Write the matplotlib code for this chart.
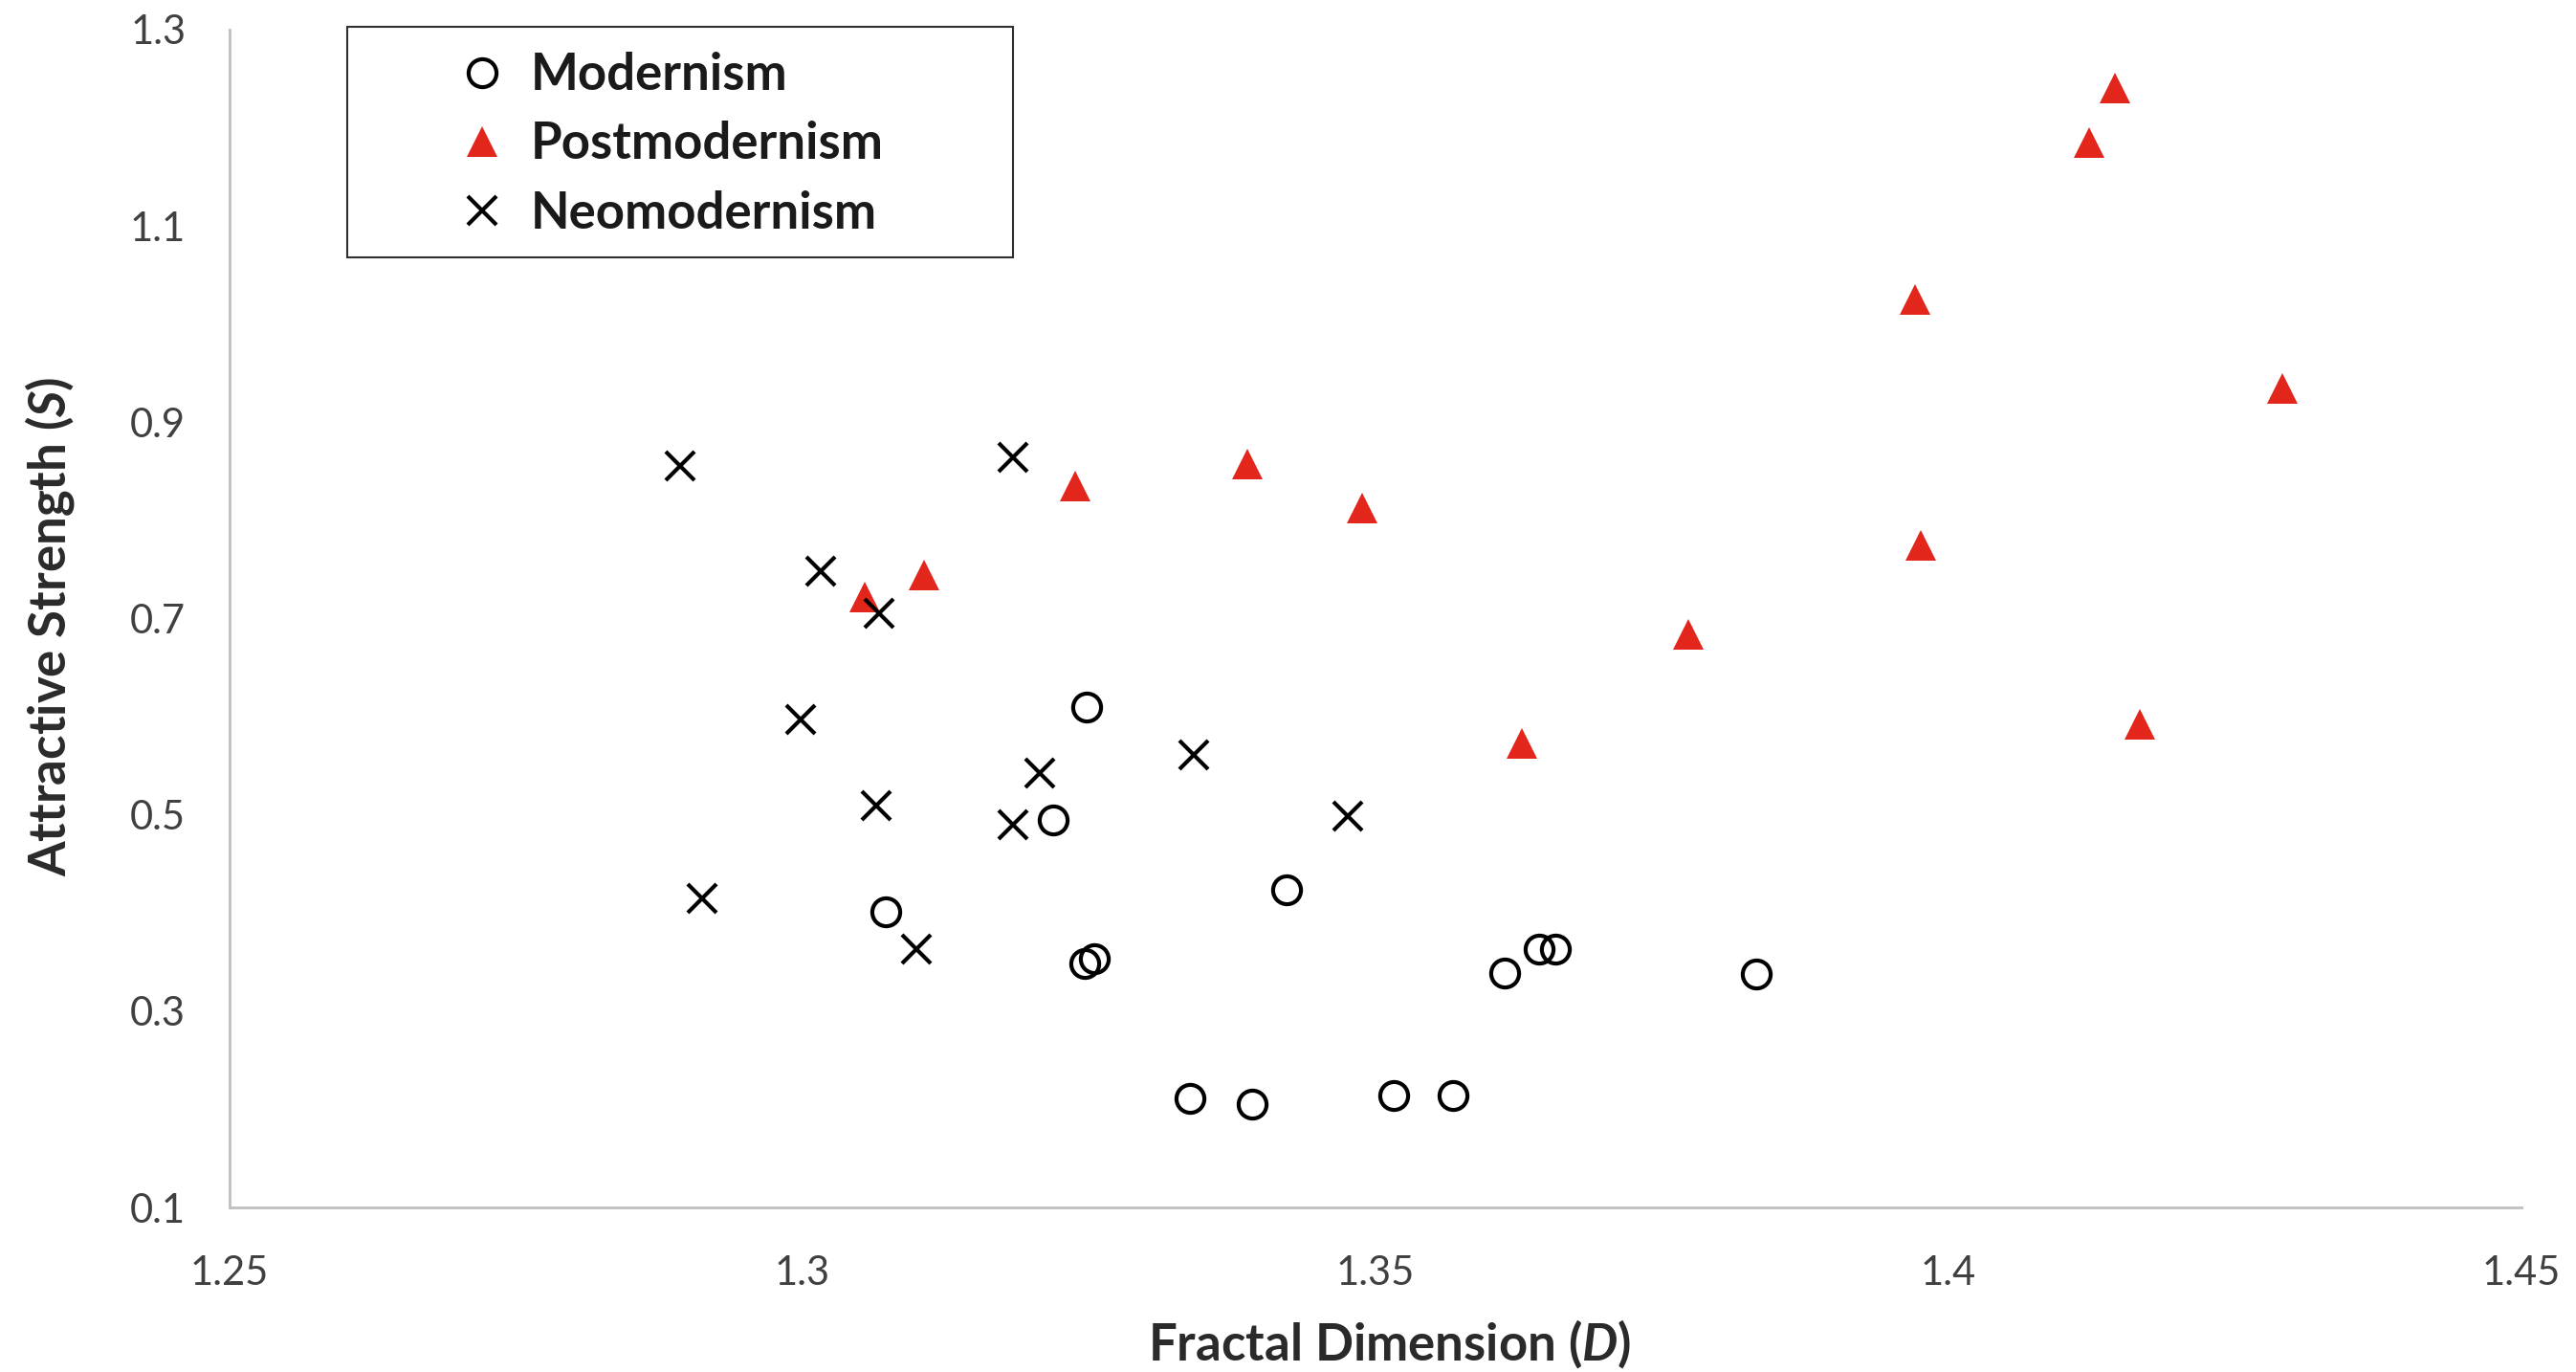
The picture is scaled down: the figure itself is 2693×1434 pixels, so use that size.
import matplotlib
matplotlib.use("Agg")
import matplotlib.pyplot as plt
from matplotlib.patches import Rectangle

plt.rcParams["font.family"] = ["Lato", "DejaVu Sans"]
plt.rcParams["mathtext.fontset"] = "custom"
plt.rcParams["mathtext.bfit"] = "Lato:bold:italic"
plt.rcParams["mathtext.it"] = "Lato:italic"

# Modernism (circles)
mod_x = [1.3248, 1.3219, 1.3073, 1.3422, 1.3246, 1.3255, 1.3613, 1.3643, 1.3657, 1.3832, 1.3338, 1.3392, 1.3516, 1.3568]
mod_y = [0.610, 0.495, 0.401, 0.424, 0.349, 0.353, 0.339, 0.363, 0.363, 0.338, 0.211, 0.205, 0.214, 0.214]

# Postmodernism (red triangles)
post_x = [1.3054, 1.3106, 1.3238, 1.3388, 1.3488, 1.3628, 1.3773, 1.3971, 1.3976, 1.4123, 1.4145, 1.4167, 1.4291]
post_y = [0.722, 0.744, 0.835, 0.857, 0.8125, 0.573, 0.684, 1.025, 0.7745, 1.1845, 1.2405, 0.5926, 0.934]

# Neomodernism (crosses)
neo_x = [1.2893, 1.3184, 1.3016, 1.3067, 1.2998, 1.3207, 1.3341, 1.3064, 1.3184, 1.3476, 1.2912, 1.3099]
neo_y = [0.855, 0.8645, 0.7485, 0.705, 0.597, 0.5425, 0.561, 0.509, 0.490, 0.499, 0.415, 0.363]

x_ticks = [1.25, 1.3, 1.35, 1.4, 1.45]
x_labels = ["1.25", "1.3", "1.35", "1.4", "1.45"]
y_ticks = [0.1, 0.3, 0.5, 0.7, 0.9, 1.1, 1.3]
y_labels = ["0.1", "0.3", "0.5", "0.7", "0.9", "1.1", "1.3"]

W, H = 2693, 1434
fig = plt.figure(figsize=(W / 100, H / 100), dpi=100)
ax = fig.add_axes([240 / W, 1 - 1262 / H, (2636 - 240) / W, (1262 - 31) / H])

ax.plot(mod_x, mod_y, "o", ms=21, mfc="none", mec="black", mew=3, label="Modernism")
ax.plot(post_x, post_y, "^", ms=23, color="#E3261C", mew=0, label="Postmodernism")
ax.plot(neo_x, neo_y, "x", ms=21, color="black", mew=3, label="Neomodernism")

ax.set_xlim(1.25, 1.45)
ax.set_ylim(0.1, 1.3)
ax.set_xticks(x_ticks)
ax.set_xticklabels(x_labels)
ax.set_yticks(y_ticks)
ax.set_yticklabels(y_labels)
ax.tick_params(length=0, labelsize=30, labelcolor="#404040")
ax.tick_params(axis="x", pad=36)
ax.tick_params(axis="y", pad=33)

for side in ["top", "right"]:
    ax.spines[side].set_visible(False)
for side in ["left", "bottom"]:
    ax.spines[side].set_color("#BFBFBF")
    ax.spines[side].set_linewidth(2)

ax.set_xlabel(r"Fractal Dimension ($\bfit{D}$)", fontsize=38, fontweight="bold",
              color="#2a2a2a", va="center")
ax.xaxis.set_label_coords(0.506, -0.116)
ax.set_ylabel(r"Attractive Strength ($\bfit{S}$)", fontsize=38, fontweight="bold",
              color="#2a2a2a", va="center")
ax.yaxis.set_label_coords(-0.0785, 0.493)

# legend box
fig.patches.append(Rectangle((363 / W, 1 - 269 / H), 696 / W, 241 / H,
                             transform=fig.transFigure, fill=False,
                             edgecolor="#303030", linewidth=1.5))
leg = ax.legend(loc="center left", bbox_to_anchor=(478 / W, 1 - 151 / H),
                bbox_transform=fig.transFigure, frameon=False,
                prop={"weight": "bold", "size": 38}, handlelength=1.0,
                handletextpad=0.45, labelspacing=0.44, borderpad=0,
                borderaxespad=0, markerscale=1.0)
for t in leg.get_texts():
    t.set_color("#1a1a1a")

fig.savefig("out.png", dpi=100)
